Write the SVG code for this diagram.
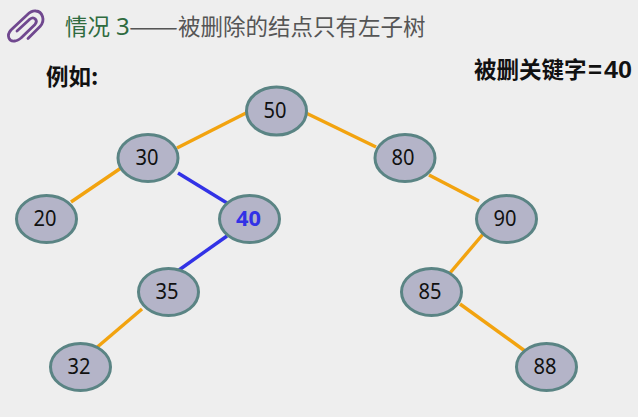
<svg xmlns="http://www.w3.org/2000/svg" width="638" height="417" viewBox="0 0 638 417">
<style>
.n ellipse{fill:#b4b4c8;stroke:#5a8484;stroke-width:3}
.n text{font-family:"Noto Sans",sans-serif;font-size:22px;fill:#111;text-anchor:middle}
.o{stroke:#f2a30f;stroke-width:3.4;fill:none}
.b{stroke:#3232e6;stroke-width:3.4;fill:none}
.h{font-family:"Noto Sans CJK SC",sans-serif;font-size:22.500px}
.k{font-family:"Noto Sans CJK SC",sans-serif;font-size:22.500px;font-weight:700;fill:#111}
.a{font-family:"Liberation Sans",sans-serif;font-size:24px;font-weight:700;fill:#111}
</style>
<rect width="638" height="417" fill="#eeeeee"/>
<g id="icon" fill="none" stroke="#70488f" stroke-width="2.800" stroke-linecap="round" stroke-linejoin="round">
<path d="M28 38.500 L40 26.500 C46 20 42 11.500 36 11 C32.500 10.500 30 12 27 15 L11 30 C6 35.500 9 42 15 41 C17 41 19 39.500 21 38 L35 24.500 C38.500 20 34 16 30 19 L17 31"/>
</g>
<text class="h" x="65" y="35" fill="#2f6b3f">情况</text>
<text class="h" x="116" y="35" fill="#2f6b3f" style="font-family:'Noto Sans',sans-serif;font-size:24px">3</text>
<text class="h" x="129" y="35" fill="#555555" textLength="49" lengthAdjust="spacingAndGlyphs">——</text>
<text class="h" x="178" y="35" fill="#555555">被删除的结点只有左子树</text>
<text class="k" x="46" y="85">例如:</text>
<text class="k" x="474" y="78">被删关键字</text>
<text class="a" x="588" y="78">=</text>
<text class="a" x="604" y="78" textLength="28" lengthAdjust="spacingAndGlyphs">40</text>
<g id="connectors">
<line class="o" x1="248" y1="112" x2="177" y2="148"/>
<line class="o" x1="306" y1="113" x2="376" y2="147"/>
<line class="o" x1="121" y1="168" x2="71" y2="202"/>
<line class="b" x1="178" y1="173" x2="227" y2="203"/>
<line class="o" x1="429" y1="175" x2="479" y2="201"/>
<line class="b" x1="227" y1="236" x2="179" y2="270"/>
<line class="o" x1="484" y1="233" x2="450" y2="273"/>
<line class="o" x1="142" y1="309" x2="95" y2="349"/>
<line class="o" x1="460" y1="304" x2="525" y2="351"/>
</g>
<g id="n50" class="n"><ellipse cx="276.500" cy="111" rx="30" ry="24"/><text x="275" y="118" textLength="23" lengthAdjust="spacingAndGlyphs">50</text></g>
<g id="n30" class="n"><ellipse cx="148" cy="158" rx="30" ry="23.500"/><text x="147" y="165" textLength="23" lengthAdjust="spacingAndGlyphs">30</text></g>
<g id="n80" class="n"><ellipse cx="405" cy="158" rx="30" ry="23.500"/><text x="403" y="165" textLength="23" lengthAdjust="spacingAndGlyphs">80</text></g>
<g id="n20" class="n"><ellipse cx="46.500" cy="219" rx="30" ry="23.500"/><text x="45" y="226" textLength="23" lengthAdjust="spacingAndGlyphs">20</text></g>
<g id="n40" class="n"><ellipse cx="249.500" cy="219" rx="30" ry="23.500"/><text x="248.500" y="226" textLength="25" lengthAdjust="spacingAndGlyphs" style="fill:#3232e6;font-weight:700">40</text></g>
<g id="n90" class="n"><ellipse cx="506.500" cy="219" rx="30" ry="23.500"/><text x="505" y="226" textLength="23" lengthAdjust="spacingAndGlyphs">90</text></g>
<g id="n35" class="n"><ellipse cx="168.500" cy="292" rx="30" ry="23.500"/><text x="167" y="299" textLength="23" lengthAdjust="spacingAndGlyphs">35</text></g>
<g id="n85" class="n"><ellipse cx="431.500" cy="292" rx="30" ry="23.500"/><text x="430" y="299" textLength="23" lengthAdjust="spacingAndGlyphs">85</text></g>
<g id="n32" class="n"><ellipse cx="80.500" cy="367" rx="30" ry="23.500"/><text x="79" y="374" textLength="23" lengthAdjust="spacingAndGlyphs">32</text></g>
<g id="n88" class="n"><ellipse cx="546.500" cy="367" rx="30" ry="23.500"/><text x="545" y="374" textLength="23" lengthAdjust="spacingAndGlyphs">88</text></g>
</svg>
